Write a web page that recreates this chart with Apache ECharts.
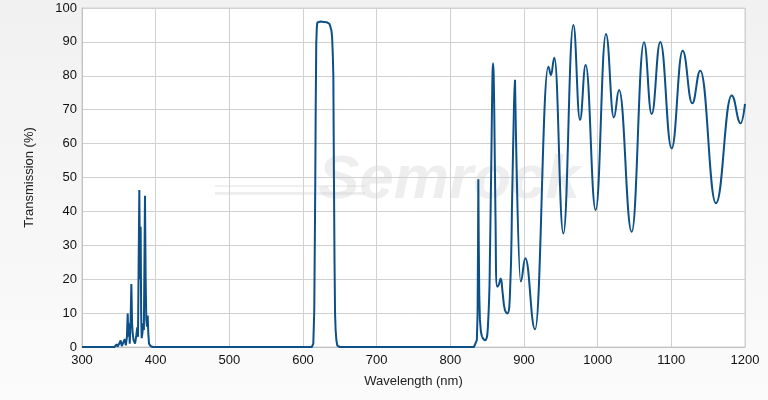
<!DOCTYPE html>
<html>
<head>
<meta charset="utf-8">
<script src="https://cdn.jsdelivr.net/npm/echarts@6/dist/echarts.min.js"></script>
<style>html,body{margin:0;padding:0;background:#f6f6f6;}#c{width:768px;height:400px;}</style>
</head>
<body>
<div id="c"></div>
<script>
// Sharp features: UV peaks, passband and first NIR edge (no smoothing)
var sharpWl = [300,344,345.5,347,348.5,350,352.5,354,356,358,359.5,361,362,363,363.8,364.8,366,367,368,368.8,370,372,373.5,375,376,377.8,378.8,379.6,380.3,381,382,383.2,384,385.5,386.4,387.3,388.2,389.2,390,391,393,396,
  612,614,615.3,616,616.7,617.3,618,618.7,619.4,620.5,622,624,626,628,630,632,634,636,637.5,638.5,639.5,640.5,641.2,642,642.8,643.5,644.3,645.3,646.6,650,
  832,834.5,836,837,837.6,838,838.6,839.3,840.2,841.5,843];
var sharpT = [0,0,0.3,0.8,0.1,0.2,1.9,0.3,0.5,2.3,0.5,3,9.9,3,7,1,8,18.6,7,4,2,1,3,5.8,3,46.3,20,35.5,10,2.6,4,7,5,44.6,20,8,6,9.3,4,1,0.3,0,
  0,1,10.9,30,50,72,89.7,94,95.7,95.8,95.6,96,95.7,95.9,95.6,95.8,95.5,95.3,94.8,93.5,91.5,86,79.7,50,25,10,5,2,0.4,0,
  0,0.3,2,10,30,49.5,30,15,8,4.5,3];
// NIR sharp-peak region (smoothed through dense points)
var nirWl = [843,847,851,854,856.5,858,859.6,861.2,863.7,866,868.3,871,874,877.3,881,884,886.5,887.8];
var nirT = [3,2,6,30,70,83.7,70,40,17.8,18.5,20.2,16,11,9.9,16,45,72,78.8];
// NIR oscillation region: local maxima / minima only
var oscWl = [887.8,895.5,901.8,915,933,936.6,941.2,953.4,967,976,983.7,997.3,1011.3,1022,1029,1046.2,1062.9,1073.3,1085,1100.4,1115.4,1128.4,1139.3,1160.6,1181.9,1194.1,1200];
var oscT = [78.8,19.3,26.2,5.2,82.7,80.2,85.3,33.5,95,67,83.2,40.4,92.3,67.7,75.8,34,89.9,68.7,90,58.6,87.4,71.9,81.5,42.4,74.2,66,71.7];
// Axis ticks
var xTicks = [300,400,500,600,700,800,900,1000,1100,1200];
var yTicks = [0,10,20,30,40,50,60,70,80,90,100];

function pairs(a,b){var r=[];for(var i=0;i<a.length;i++)r.push([a[i],b[i]]);return r;}
var lineColor = '#0d5087';
var font = 'Liberation Sans, Arial, sans-serif';
var chart = echarts.init(document.getElementById('c'));
chart.setOption({
  animation:false,
  backgroundColor:{type:'linear',x:0,y:0,x2:0,y2:1,colorStops:[{offset:0,color:'#f1f1f1'},{offset:1,color:'#fbfbfb'}]},
  grid:{left:82,right:23,top:8,bottom:53,show:true,backgroundColor:'#ffffff',borderColor:'#d0d0d0',borderWidth:1},
  graphic:[{type:'text',left:318,top:150,z:0,silent:true,style:{text:'Semrock',font:'italic bold 62px Liberation Sans, Arial, sans-serif',fill:'rgba(205,205,205,0.35)'}},
           {type:'rect',shape:{x:215,y:192,width:150,height:3},style:{fill:'rgba(205,205,205,0.35)'},z:0,silent:true},
           {type:'rect',shape:{x:215,y:185,width:150,height:2},style:{fill:'rgba(205,205,205,0.3)'},z:0,silent:true}],
  xAxis:{type:'value',min:300,max:1200,interval:100,
    name:'Wavelength (nm)',nameLocation:'middle',nameGap:28,nameTextStyle:{color:'#222',fontSize:13,fontFamily:font},
    axisLine:{show:true,lineStyle:{color:'#c0c0c0'}},axisTick:{show:false},
    axisLabel:{color:'#111',fontSize:13,fontFamily:font,margin:7,formatter:function(v){return String(v);}},
    splitLine:{show:true,lineStyle:{color:'#d0d0d0'}}},
  yAxis:{type:'value',min:0,max:100,interval:10,
    name:'Transmission (%)',nameLocation:'middle',nameGap:46,nameRotate:90,nameTextStyle:{color:'#222',fontSize:13,fontFamily:font},
    axisLine:{show:true,lineStyle:{color:'#c0c0c0'}},axisTick:{show:false},
    axisLabel:{color:'#111',fontSize:13,fontFamily:font,margin:5,formatter:function(v){return String(v);}},
    splitLine:{show:true,lineStyle:{color:'#d0d0d0'}}},
  series:[
    {type:'line',data:pairs(sharpWl,sharpT),showSymbol:false,smooth:false,lineStyle:{color:lineColor,width:2},z:3},
    {type:'line',data:pairs(nirWl,nirT),showSymbol:false,smooth:0.5,lineStyle:{color:lineColor,width:2},z:3},
    {type:'line',data:pairs(oscWl,oscT),showSymbol:false,smooth:0.45,smoothMonotone:'x',lineStyle:{color:lineColor,width:2},z:3}
  ]
});
</script>
</body>
</html>
